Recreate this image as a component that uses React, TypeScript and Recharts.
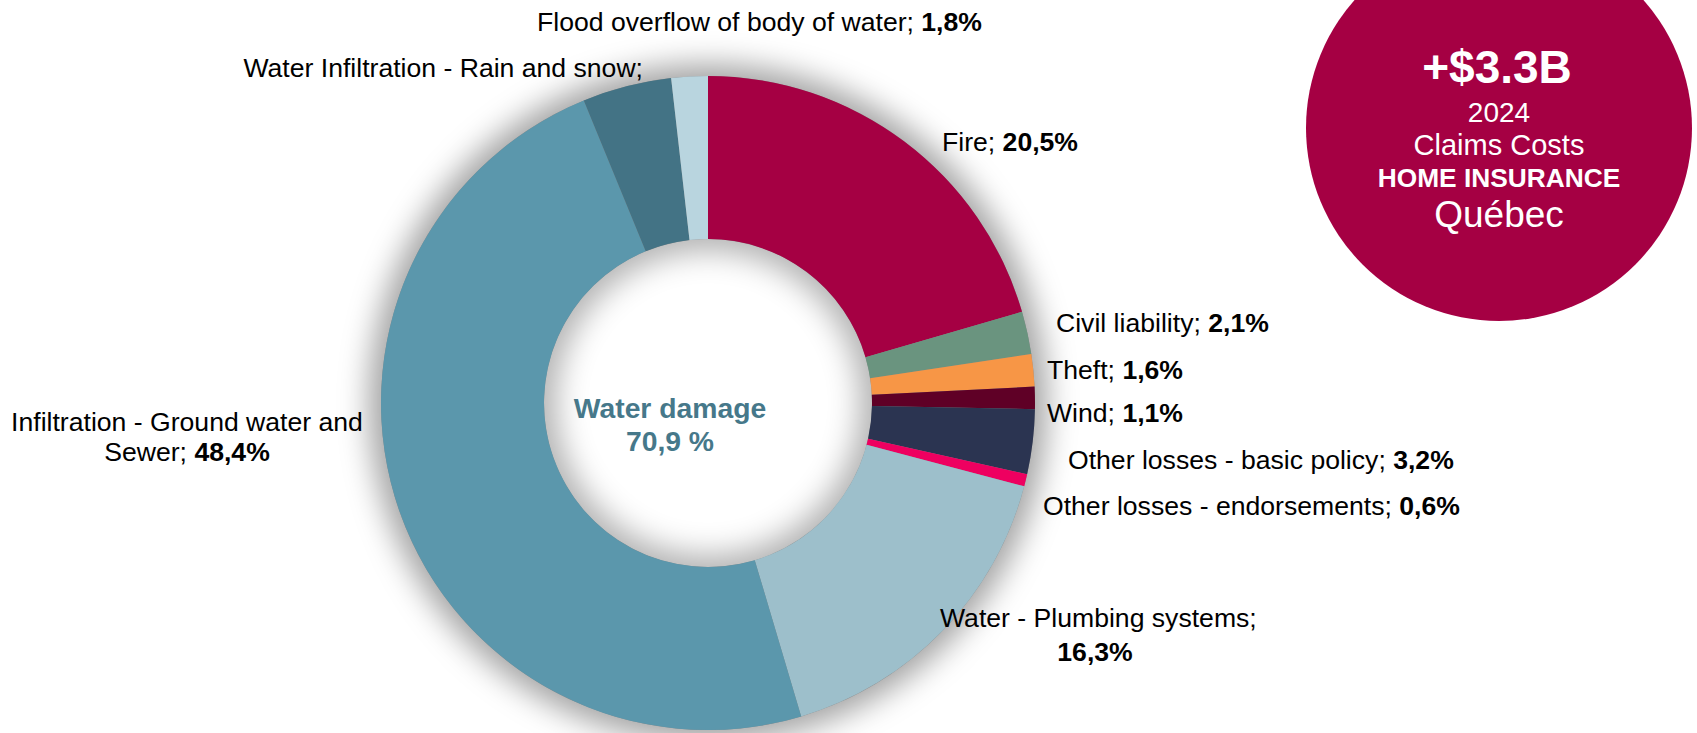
import { PieChart, Pie, Cell } from "recharts";

// claim cost shares, Québec home insurance 2024 (%)
const categories = [
  "Fire",
  "Civil liability",
  "Theft",
  "Wind",
  "Other losses - basic policy",
  "Other losses - endorsements",
  "Water - Plumbing systems",
  "Infiltration - Ground water and Sewer",
  "Water Infiltration - Rain and snow",
  "Flood overflow of body of water",
];
const shares = [20.5, 2.1, 1.6, 1.1, 3.2, 0.6, 16.3, 48.4, 4.4, 1.8];
const colors = [
  "#A50043", "#6A947F", "#F79646", "#5F0026", "#2B3451",
  "#EE0060", "#9DBFCB", "#5B97AC", "#437385", "#B9D5DF",
];
// the rain & snow label has no value in the original
const hideValue = ["Water Infiltration - Rain and snow"];

const waterDamage = "70,9 %";
const totalCost = "+$3.3B";
const badgeLines = ["2024", "Claims Costs", "HOME INSURANCE", "Québec"];

const data = categories.map((name, i) => ({ name, value: shares[i] }));

const FONT = "'Liberation Sans', Arial, sans-serif";
const fmt = (v: number) => v.toFixed(1).replace(".", ",") + "%";

const CX = 708;
const CY = 403;
const R_IN = 164;
const R_OUT = 327;

// hand placed label anchors, like in the source graphic
type Pos = { x: number; y: number; anchor: "start" | "end" | "middle" };
const LABEL_POS: Record<string, Pos> = {
  Fire: { x: 942, y: 142, anchor: "start" },
  "Civil liability": { x: 1056, y: 323, anchor: "start" },
  Theft: { x: 1047, y: 370, anchor: "start" },
  Wind: { x: 1047, y: 413, anchor: "start" },
  "Other losses - basic policy": { x: 1068, y: 460, anchor: "start" },
  "Other losses - endorsements": { x: 1043, y: 506, anchor: "start" },
  "Water - Plumbing systems": { x: 940, y: 618, anchor: "start" },
  "Infiltration - Ground water and Sewer": { x: 187, y: 422, anchor: "middle" },
  "Water Infiltration - Rain and snow": { x: 643, y: 68, anchor: "end" },
  "Flood overflow of body of water": { x: 537, y: 22, anchor: "start" },
};

const renderLabel = (props: any) => {
  const { name, value } = props;
  const p = LABEL_POS[name];
  if (!p) return null;
  const common = { fill: "#000", fontSize: 26.6, fontFamily: FONT, dominantBaseline: "central" as const };
  if (name === "Water - Plumbing systems") {
    return (
      <g>
        <text x={p.x} y={p.y} textAnchor="start" {...common}>
          {name};
        </text>
        <text x={1095} y={p.y + 34} textAnchor="middle" fontWeight="bold" {...common}>
          {fmt(value)}
        </text>
      </g>
    );
  }
  if (name === "Infiltration - Ground water and Sewer") {
    return (
      <g>
        <text x={p.x} y={p.y} textAnchor="middle" {...common}>
          Infiltration - Ground water and
        </text>
        <text x={p.x} y={p.y + 30} textAnchor="middle" {...common}>
          Sewer; <tspan fontWeight="bold">{fmt(value)}</tspan>
        </text>
      </g>
    );
  }
  return (
    <text x={p.x} y={p.y} textAnchor={p.anchor} {...common}>
      {name};{" "}
      {hideValue.includes(name) ? null : <tspan fontWeight="bold">{fmt(value)}</tspan>}
    </text>
  );
};

export default function App() {
  const white = { fill: "#fff", fontFamily: FONT, textAnchor: "middle" as const, dominantBaseline: "central" as const };
  return (
    <div style={{ position: "absolute", left: 0, top: 0, width: 1697, height: 733, background: "#fff", overflow: "hidden" }}>
      {/* soft glow around the donut and inside its hole */}
      <div
        style={{
          position: "absolute",
          zIndex: 0,
          left: CX - R_OUT,
          top: CY - R_OUT,
          width: R_OUT * 2,
          height: R_OUT * 2,
          borderRadius: "50%",
          background: "#8a8a8a",
          boxShadow: "0 0 30px 12px rgba(0,0,0,0.36)",
        }}
      />
      <div
        style={{
          position: "absolute",
          zIndex: 1,
          left: CX - R_IN,
          top: CY - R_IN,
          width: R_IN * 2,
          height: R_IN * 2,
          borderRadius: "50%",
          background: "#fff",
          boxShadow: "inset 0 0 30px 12px rgba(0,0,0,0.3)",
        }}
      />
      <div style={{ position: "absolute", zIndex: 2, left: 0, top: 0 }}>
        <PieChart width={1697} height={733} margin={{ top: 0, right: 0, bottom: 0, left: 0 }}>
          {/* badge */}
          <circle cx={1499} cy={128} r={193} fill="#A50043" />
          <text x={1497} y={67} fontSize={46} fontWeight="bold" {...white}>
            {totalCost}
          </text>
          <text x={1499} y={112} fontSize={28} {...white}>
            {badgeLines[0]}
          </text>
          <text x={1499} y={145} fontSize={29} {...white}>
            {badgeLines[1]}
          </text>
          <text x={1499} y={178} fontSize={26.3} fontWeight="bold" {...white}>
            {badgeLines[2]}
          </text>
          <text x={1499} y={214} fontSize={37} {...white}>
            {badgeLines[3]}
          </text>
          <Pie
            data={data}
            dataKey="value"
            nameKey="name"
            cx={CX}
            cy={CY}
            innerRadius={R_IN}
            outerRadius={R_OUT}
            startAngle={90}
            endAngle={-270}
            stroke="none"
            label={renderLabel}
            labelLine={false}
            isAnimationActive={false}
          >
            {data.map((d, i) => (
              <Cell key={d.name} fill={colors[i]} />
            ))}
          </Pie>
          <text x={670} y={408} textAnchor="middle" dominantBaseline="central" fill="#46788A" fontSize={28.3} fontWeight="bold" fontFamily={FONT}>
            Water damage
          </text>
          <text x={670} y={441} textAnchor="middle" dominantBaseline="central" fill="#46788A" fontSize={28.3} fontWeight="bold" fontFamily={FONT}>
            {waterDamage}
          </text>
        </PieChart>
      </div>
    </div>
  );
}
